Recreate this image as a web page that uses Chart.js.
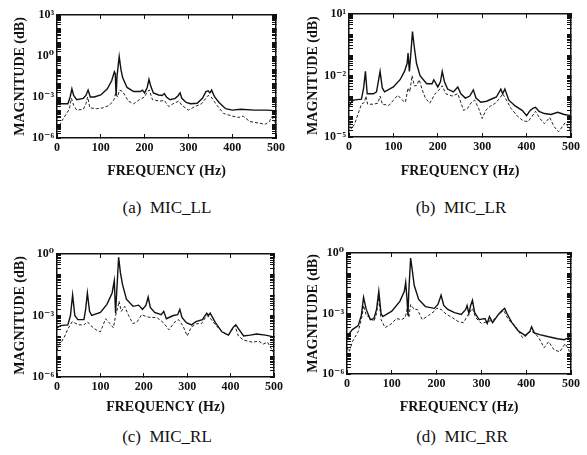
<!DOCTYPE html>
<html lang="en">
<head>
<meta charset="UTF-8">
<title>MIC magnitude spectra</title>
<style>
  body { margin: 0; background: #fff; }
  #wrap { position: relative; width: 587px; height: 455px; overflow: hidden; }
  canvas { position: absolute; }
  .cap {
    position: absolute;
    font-family: "Liberation Serif", "DejaVu Serif", serif;
    font-size: 17px;
    line-height: 20px;
    color: #111;
    white-space: pre;
    transform: translateX(-50%);
  }
</style>
</head>
<body>
<div id="wrap">
  <canvas id="cA" width="293" height="186" style="left:0;top:0"></canvas>
  <canvas id="cB" width="294" height="186" style="left:293px;top:0"></canvas>
  <canvas id="cC" width="293" height="186" style="left:0;top:236px"></canvas>
  <canvas id="cD" width="294" height="186" style="left:293px;top:236px"></canvas>
  <div class="cap" style="left:167px;top:198px">(a)  MIC_LL</div>
  <div class="cap" style="left:461px;top:198px">(b)  MIC_LR</div>
  <div class="cap" style="left:167px;top:427px">(c)  MIC_RL</div>
  <div class="cap" style="left:462px;top:427px">(d)  MIC_RR</div>
</div>

<script src="https://cdn.jsdelivr.net/npm/chart.js"></script>
<script>
  // [frequency Hz, magnitude]
  const solidA = [[0,3.2e-4],[25,3.2e-4],[30,1e-3],[34,4e-3],[38,1.3e-3],[45,6.3e-4],[60,8e-4],[66,1.3e-3],[71,3.2e-3],[76,1e-3],
    [85,1e-3],[100,1.4e-3],[115,4e-3],[125,1.6e-2],[131,7e-2],[133,5e-2],[135,1.3e-3],[137,3.2e-2],[142,0.9],[146,0.1],
    [150,2.5e-2],[160,5e-3],[175,2.5e-3],[190,2.5e-3],[195,3.2e-3],[200,2e-3],[206,5e-3],[210,2e-2],[214,6.3e-3],[220,2e-3],
    [232,1.4e-3],[240,1.3e-3],[245,1.8e-3],[250,1e-3],[258,6.3e-4],[270,8e-4],[277,1.3e-3],[281,2e-3],[285,8e-4],[295,4e-4],
    [305,3.2e-4],[320,3.5e-4],[332,8e-4],[340,2.5e-3],[345,2.8e-3],[349,2e-3],[353,3.2e-3],[360,1e-3],[370,4e-4],[385,1.4e-4],
    [400,1.1e-4],[420,1.26e-4],[450,1.1e-4],[480,1.1e-4],[495,1e-4],[500,9e-5]];
  const dashA = [[0,4e-6],[5,6.3e-6],[10,1.6e-5],[20,5e-5],[28,1.26e-4],[33,8e-4],[38,2.5e-4],[45,1.1e-4],[60,1.26e-4],[66,3.2e-4],
    [70,1e-3],[75,1.6e-4],[90,1.4e-4],[105,1.6e-4],[120,2.5e-4],[130,6.3e-4],[134,2e-3],[138,1e-3],[143,3.2e-3],[150,2.5e-3],
    [155,1.3e-3],[163,5e-4],[175,3.2e-4],[188,6.3e-4],[200,1e-3],[206,2.5e-3],[211,3.2e-3],[218,6.3e-4],[235,5e-4],[245,5.6e-4],
    [255,2e-4],[265,3.2e-4],[278,5e-4],[285,2.5e-4],[300,1.1e-4],[315,2e-4],[330,3.2e-4],[345,1.3e-3],[352,1e-3],[365,2.5e-4],
    [380,6.3e-5],[400,4e-5],[415,3.2e-5],[425,4e-5],[440,1.6e-5],[460,1.26e-5],[475,1e-5],[485,1.6e-5],[490,3.5e-5],[497,1.6e-5],[500,1e-5]];

  const solidB = [[0,3.2e-4],[5,5e-4],[10,6.3e-4],[28,7e-4],[33,2.5e-3],[37,1.6e-2],[41,1.3e-3],[55,1.3e-3],[62,1.6e-3],[70,1.6e-2],
    [75,2.5e-3],[80,1.6e-3],[100,2.8e-3],[115,6.3e-3],[125,1.6e-2],[131,4e-2],[133,0.126],[136,1.6e-2],[139,0.1],[143,1.4],
    [147,0.25],[152,4e-2],[160,1e-2],[175,4e-3],[187,4e-3],[191,6.3e-3],[200,2.8e-3],[206,5e-3],[210,1.6e-2],[215,5e-3],
    [222,2.2e-3],[235,1.6e-3],[245,2.8e-3],[252,1.3e-3],[262,8e-4],[272,1e-3],[280,2e-3],[286,8e-4],[297,5e-4],[310,5.6e-4],
    [320,7e-4],[332,9e-4],[342,2.2e-3],[346,1.3e-3],[351,2.2e-3],[360,6.3e-4],[375,3.2e-4],[390,2e-4],[400,1.1e-4],[408,2e-4],
    [414,2.5e-4],[420,2.8e-4],[428,1.8e-4],[440,1.4e-4],[455,1.26e-4],[470,1.6e-4],[485,1.26e-4],[500,1.1e-4]];
  const dashB = [[0,1e-4],[5,2.5e-5],[12,4e-5],[20,1.26e-4],[28,4e-4],[35,5e-4],[38,1e-3],[42,4e-4],[55,4e-4],[65,4.5e-4],
    [70,1e-3],[75,4e-4],[90,3.5e-4],[100,6.3e-4],[110,1.1e-3],[120,6.3e-4],[127,5e-4],[133,2.5e-3],[137,1.6e-3],[142,1e-2],
    [147,3.2e-3],[152,3.2e-3],[158,6.3e-3],[165,2e-3],[172,8e-4],[182,4.5e-4],[195,1.4e-3],[203,2e-3],[210,3.2e-3],[218,1.3e-3],
    [232,1e-3],[245,1.3e-3],[258,2e-4],[267,2.5e-4],[276,5e-4],[283,6.3e-4],[292,2.5e-4],[300,8e-5],[308,2e-4],[318,3.2e-4],
    [330,4.5e-4],[340,8e-4],[346,1.3e-3],[352,8e-4],[365,2.5e-4],[380,1e-4],[392,6.3e-5],[403,5.6e-5],[412,1e-4],[420,1.8e-4],
    [430,8e-5],[440,4.5e-5],[452,9e-5],[462,3.2e-5],[472,1.8e-5],[487,5e-5],[497,2.5e-5],[500,1.8e-5]];

  const solidC = [[0,2.5e-4],[8,3.2e-4],[25,3.5e-4],[31,1e-3],[36,1e-2],[41,1e-3],[48,6.3e-4],[62,6.3e-4],[66,2e-3],[70,1.26e-2],
    [75,1.6e-3],[80,1e-3],[100,1.4e-3],[115,3.5e-3],[127,1.26e-2],[132,5e-2],[135,1.3e-3],[138,2e-2],[142,0.7],[146,0.126],
    [151,3.2e-2],[160,6.3e-3],[175,2.8e-3],[188,3.2e-3],[197,2e-3],[205,3.2e-3],[210,8e-3],[215,2.5e-3],[225,1.4e-3],[240,1.1e-3],
    [246,1.6e-3],[252,7e-4],[268,1e-3],[278,1.1e-3],[283,2e-3],[288,8e-4],[298,4.5e-4],[310,3.5e-4],[320,5e-4],[335,6.3e-4],
    [345,1.3e-3],[349,1e-3],[353,1.3e-3],[365,4.5e-4],[380,1.6e-4],[395,1.1e-4],[405,2.5e-4],[412,3.5e-4],[420,2e-4],[430,1e-4],
    [445,1.1e-4],[460,1.26e-4],[480,1.1e-4],[500,9e-5]];
  const dashC = [[0,2e-5],[5,4e-5],[10,5e-5],[18,1e-4],[25,2.2e-4],[35,5e-4],[50,3.5e-4],[62,3.5e-4],[70,5e-4],[78,3.2e-4],
    [90,2e-4],[100,1.6e-4],[112,7e-4],[122,4e-4],[130,2.5e-4],[135,1e-3],[140,2.5e-3],[143,5e-3],[148,1.6e-3],[156,2.8e-3],
    [165,1e-3],[175,4e-4],[185,5e-4],[195,1.1e-3],[205,9e-4],[215,8e-4],[230,8e-4],[245,4.5e-4],[258,2e-4],[270,4.5e-4],
    [280,6.3e-4],[290,3.2e-4],[300,1e-4],[310,2.8e-4],[322,4e-4],[333,4e-4],[345,1e-3],[352,8e-4],[365,3.5e-4],[380,1.6e-4],
    [395,1.1e-4],[410,3.2e-4],[418,1e-4],[430,6.3e-5],[450,5e-5],[465,5.6e-5],[475,4e-5],[485,5e-5],[495,2.2e-5],[500,1.4e-5]];

  const solidD = [[0,5e-5],[5,1e-4],[12,1.6e-4],[25,2.5e-4],[32,8e-4],[37,6.3e-3],[43,1.6e-3],[52,5e-4],[60,5.6e-4],[66,1.6e-3],
    [71,1.26e-2],[76,1e-3],[80,7e-4],[100,1.3e-3],[118,4e-3],[128,1.26e-2],[131,3.5e-2],[134,5e-3],[136,8e-4],[138,1.26e-2],
    [142,0.56],[146,0.126],[150,2.5e-2],[160,5e-3],[175,2.2e-3],[195,1.8e-3],[203,2.8e-3],[210,8e-3],[216,2.5e-3],[225,1.6e-3],
    [240,1.1e-3],[255,9e-4],[265,1.6e-3],[268,2.5e-3],[272,1e-3],[276,2.5e-3],[280,4.5e-3],[285,1.1e-3],[295,5e-4],[308,5.6e-4],
    [313,3.2e-4],[318,7e-4],[325,3.5e-4],[338,9e-4],[346,1.4e-3],[352,1.8e-3],[357,1e-3],[368,3.5e-4],[382,1.4e-4],[398,8e-5],
    [408,1.26e-4],[412,2.2e-4],[418,1.1e-4],[430,9e-5],[450,7e-5],[470,5.6e-5],[485,5e-5],[495,6.3e-5],[500,3.5e-5]];
  const dashD = [[0,2e-5],[5,1.26e-5],[12,4e-5],[25,1.26e-4],[33,6.3e-4],[37,2.5e-3],[43,8e-4],[52,6.3e-4],[60,4e-4],[66,1e-3],
    [71,6.3e-3],[76,5e-4],[85,2e-4],[100,3.2e-4],[110,5.6e-4],[122,5e-4],[130,6.3e-4],[135,2e-3],[138,6.3e-4],[142,2.8e-3],
    [150,1.6e-3],[157,1.6e-3],[168,5e-4],[182,8e-4],[195,1.3e-3],[200,1.8e-3],[210,1.6e-3],[222,9e-4],[235,6.3e-4],[248,4e-4],
    [260,3.5e-4],[272,1e-3],[280,1.8e-3],[287,6.3e-4],[300,3.2e-4],[315,4e-4],[328,5e-4],[340,1e-3],[350,1.4e-3],[360,5e-4],
    [375,2.5e-4],[392,6.3e-5],[400,8e-5],[410,1.4e-4],[420,1e-4],[428,6.3e-5],[440,2e-5],[450,4e-5],[462,1.6e-5],[475,1.26e-5],
    [487,3.2e-5],[495,1.6e-5],[500,5e-6]];

  // labelled decades on each y axis
  const yTicksA = [1e3, 1, 1e-3, 1e-6];
  const yTextA = ['10³', '10⁰', '10⁻³', '10⁻⁶'];
  const yTicksB = [10, 1e-2, 1e-5];
  const yTextB = ['10¹', '10⁻²', '10⁻⁵'];
  const yTicksC = [1, 1e-3, 1e-6];
  const yTextC = ['10⁰', '10⁻³', '10⁻⁶'];
  const yTicksD = [1, 1e-3, 1e-6];
  const yTextD = ['10⁰', '10⁻³', '10⁻⁶'];

  const serif = '"Liberation Serif", "DejaVu Serif", serif';

  function logTicks(scale) {
    const t = [];
    const lo = Math.round(Math.log10(scale.min));
    const hi = Math.round(Math.log10(scale.max));
    for (let e = lo; e < hi; e++) {
      for (let m = 1; m < 10; m++) t.push({ value: m * Math.pow(10, e) });
    }
    t.push({ value: Math.pow(10, hi) });
    scale.ticks = t;
  }

  function panel(id, area, yMin, yMax, tickVals, tickText, solid, dashed) {
    const cv = document.getElementById(id);
    const grid = { drawOnChartArea: false, tickLength: -4, color: '#111', tickWidth: 1 };
    const border = { color: '#111', width: 1.5 };
    new Chart(cv, {
      type: 'line',
      data: {
        datasets: [
          { data: solid.map(p => ({ x: p[0], y: p[1] })), borderColor: '#111', borderWidth: 1.4, pointRadius: 0, tension: 0 },
          { data: dashed.map(p => ({ x: p[0], y: p[1] })), borderColor: '#222', borderWidth: 1, borderDash: [3, 2], pointRadius: 0, tension: 0 }
        ]
      },
      options: {
        responsive: false,
        animation: false,
        events: [],
        layout: { padding: { left: 0, top: area.top, right: cv.width - area.right, bottom: 0 } },
        plugins: { legend: { display: false }, tooltip: { enabled: false } },
        scales: {
          x: {
            type: 'linear', position: 'bottom', min: 0, max: 500,
            ticks: { stepSize: 100, padding: 7, maxRotation: 0, autoSkip: false, color: '#111',
                     font: { family: serif, size: 12, weight: 'bold' } },
            grid: grid, border: border,
            title: { display: true, text: 'FREQUENCY (Hz)', color: '#111', padding: { top: 0, bottom: 6 },
                     font: { family: serif, size: 14, weight: 'bold' } },
            afterFit: s => { s.height = cv.height - area.bottom; }
          },
          xTop: {
            type: 'linear', position: 'top', min: 0, max: 500,
            ticks: { display: false, stepSize: 100 },
            grid: grid, border: border,
            afterFit: s => { s.height = 0; }
          },
          y: {
            type: 'logarithmic', position: 'left', min: yMin, max: yMax,
            afterBuildTicks: logTicks,
            ticks: {
              autoSkip: false, padding: 7, color: '#111',
              font: { family: serif, size: 12, weight: 'bold' },
              callback: v => {
                const i = tickVals.findIndex(t => Math.abs(Math.log10(t) - Math.log10(v)) < 1e-6);
                return i >= 0 ? tickText[i] : '';
              }
            },
            grid: grid, border: border,
            title: { display: true, text: 'MAGNITUDE (dB)', color: '#111', padding: { top: 12, bottom: 0 },
                     font: { family: serif, size: 14, weight: 'bold' } },
            afterFit: s => { s.width = area.left; }
          },
          yR: {
            type: 'logarithmic', position: 'right', min: yMin, max: yMax,
            afterBuildTicks: logTicks,
            ticks: { display: false },
            grid: grid, border: border,
            afterFit: s => { s.width = 0; }
          }
        }
      }
    });
  }

  panel('cA', { left: 57, right: 276, top: 15, bottom: 138 }, 1e-6, 1e3, yTicksA, yTextA, solidA, dashA);
  panel('cB', { left: 56, right: 278, top: 14, bottom: 137 }, 1e-5, 10, yTicksB, yTextB, solidB, dashB);
  panel('cC', { left: 57, right: 274, top: 18, bottom: 141 }, 1e-6, 1, yTicksC, yTextC, solidC, dashC);
  panel('cD', { left: 54, right: 279, top: 17, bottom: 138 }, 1e-6, 1, yTicksD, yTextD, solidD, dashD);
</script>
</body>
</html>
